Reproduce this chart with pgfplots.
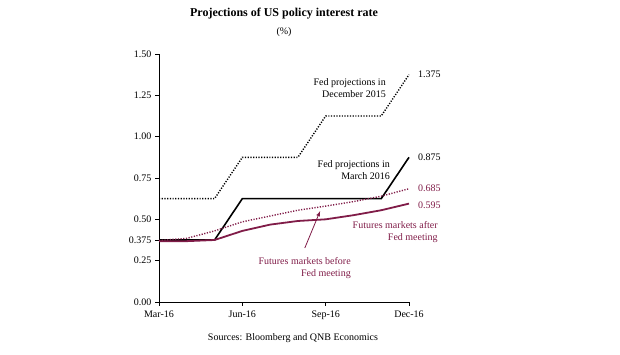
\documentclass[border=0pt]{standalone}
\usepackage{pgfplots}
\pgfplotsset{compat=1.18}
\usepackage{fontspec}
\setmainfont{Liberation Serif}
\definecolor{maroon}{RGB}{128,28,72}
\begin{document}
\begin{tikzpicture}[x=1pt,y=1pt]
\path[use as bounding box] (0,0) rectangle (620,355);
\begin{axis}[
  at={(159pt,53pt)}, anchor=south west,
  scale only axis, width=250pt, height=248pt,
  xmin=0, xmax=9, ymin=0, ymax=1.5,
  axis x line=bottom, axis y line=left,
  axis line style={-, line width=0.8pt},
  tick align=outside, major tick length=4pt,
  tick style={black, line width=0.8pt},
  xtick={0,3,6,9}, xticklabels={Mar-16,Jun-16,Sep-16,Dec-16},
  ytick={0,0.25,0.375,0.5,0.75,1,1.25,1.5},
  yticklabels={0.00,0.25,0.375,0.50,0.75,1.00,1.25,1.50},
  tick label style={font=\fontsize{10}{12}\selectfont},
  xticklabel style={yshift=-1pt},
  clip=false,
]
% Fed projections Dec 2015
\addplot[black, line width=1.4pt, dash pattern=on 1.2pt off 1.5pt] coordinates {
 (0,0.625) (2,0.625) (3,0.875) (5,0.875) (6,1.125) (8,1.125) (9,1.375)};
% Fed projections March 2016
\addplot[black, line width=1.6pt] coordinates {
 (0,0.375) (2,0.375) (3,0.625) (8,0.625) (9,0.875)};
% Futures before
\addplot[maroon, line width=1.4pt, dash pattern=on 1.2pt off 1.5pt] coordinates {
 (0,0.372) (1,0.385) (2,0.43) (3,0.485) (4,0.52) (5,0.555) (6,0.58) (7,0.607) (8,0.64) (9,0.685)};
% Futures after
\addplot[maroon, line width=1.8pt] coordinates {
 (0,0.367) (1,0.368) (2,0.375) (3,0.43) (4,0.468) (5,0.49) (6,0.50) (7,0.525) (8,0.555) (9,0.595)};
\draw[maroon, line width=0.8pt, -latex] (axis cs:5.25,0.327) -- (axis cs:5.8,0.55);
\begin{scope}[every node/.style={font=\fontsize{10}{12}\selectfont, inner sep=0pt}]
\node[anchor=east, align=right] at (axis cs:8.17,1.291) {Fed projections in\\December 2015};
\node[anchor=east, align=right] at (axis cs:8.32,0.795) {Fed projections in\\March 2016};
\node[anchor=west] at (axis cs:9.32,1.375) {1.375};
\node[anchor=west] at (axis cs:9.32,0.877) {0.875};
\node[anchor=west, text=maroon] at (axis cs:9.32,0.69) {0.685};
\node[anchor=west, text=maroon] at (axis cs:9.32,0.587) {0.595};
\node[anchor=east, align=right, text=maroon] at (axis cs:10.04,0.426) {Futures markets after\\Fed meeting};
\node[anchor=east, align=right, text=maroon] at (axis cs:6.91,0.203) {Futures markets before\\Fed meeting};
\end{scope}
\end{axis}
\node[font=\fontsize{12}{14}\selectfont\bfseries] at (284,341) {Projections of US policy interest rate};
\node[font=\fontsize{10}{12}\selectfont] at (284,323) {(\%)};
\node[font=\fontsize{10}{12}\selectfont] at (293,17) {Sources: Bloomberg and QNB Economics};
\end{tikzpicture}
\end{document}
